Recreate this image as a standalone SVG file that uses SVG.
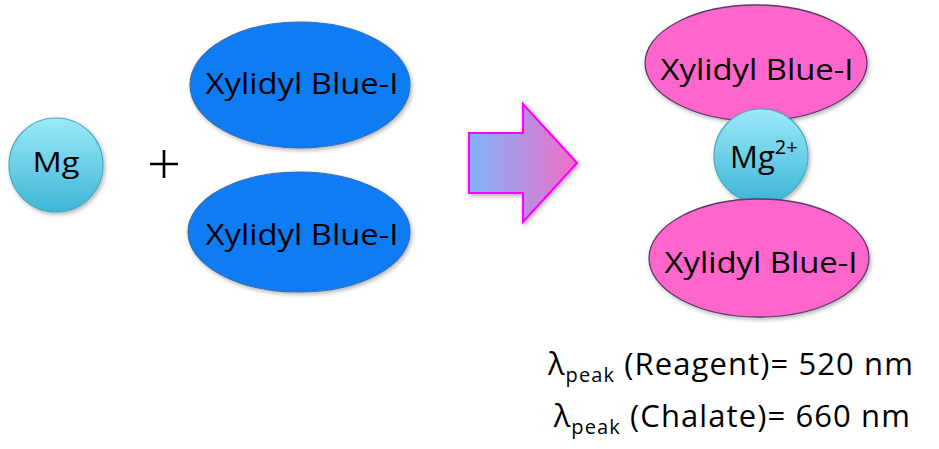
<svg xmlns="http://www.w3.org/2000/svg" width="939" height="449" viewBox="0 0 939 449">
<defs>
<style>
.t{font-family:"Open Sans","Liberation Sans",sans-serif;fill:#000;}
.lbl{font-size:30px;text-anchor:middle;}
.blue{fill:#0a7cf5;stroke:#3a6cb0;stroke-width:1.2;}
.pink{fill:#ff66cc;stroke:#5a3a6e;stroke-width:1.3;}
.ion{fill:url(#cy);stroke:#4aa8c4;stroke-width:1.2;}
.wl{font-size:31px;text-anchor:end;letter-spacing:1.1px;}
</style>
<linearGradient id="cy" x1="0" y1="0" x2="0" y2="1">
<stop offset="0" stop-color="#9ceaf8"/>
<stop offset="1" stop-color="#3db5d6"/>
</linearGradient>
<linearGradient id="ar" x1="0" y1="0" x2="1" y2="0">
<stop offset="0" stop-color="#7cb4fa"/>
<stop offset="1" stop-color="#f56cc6"/>
</linearGradient>
<filter id="sh" x="-20%" y="-20%" width="140%" height="140%">
<feDropShadow dx="1.5" dy="2" stdDeviation="2" flood-color="#000" flood-opacity="0.3"/>
</filter>
</defs>
<rect width="939" height="449" fill="#fff"/>
<g id="mg">
<circle class="ion" cx="56" cy="165" r="47" filter="url(#sh)"/>
<text class="t" x="56" y="172" font-size="28" text-anchor="middle" textLength="47" lengthAdjust="spacingAndGlyphs">Mg</text>
</g>
<g id="plus">
<path d="M150 164 H178 M164 150 V178" stroke="#000" stroke-width="2.6" fill="none"/>
</g>
<g id="xb1">
<ellipse class="blue" cx="300" cy="85" rx="110" ry="63" filter="url(#sh)"/>
<text class="t lbl" x="302" y="94" textLength="193" lengthAdjust="spacingAndGlyphs">Xylidyl Blue-I</text>
</g>
<g id="xb2">
<ellipse class="blue" cx="299" cy="232" rx="111" ry="60" filter="url(#sh)"/>
<text class="t lbl" x="302" y="245" textLength="193" lengthAdjust="spacingAndGlyphs">Xylidyl Blue-I</text>
</g>
<g id="connectors">
<path d="M469 133 H523 V104 L577 163 L523 222 V193 H469 Z" fill="url(#ar)" stroke="#ff00ff" stroke-width="2.2" stroke-linejoin="miter" filter="url(#sh)"/>
</g>
<g id="xb3">
<ellipse class="pink" cx="756" cy="63" rx="111" ry="58" filter="url(#sh)"/>
<text class="t lbl" x="757" y="80" textLength="193" lengthAdjust="spacingAndGlyphs">Xylidyl Blue-I</text>
</g>
<g id="mg2">
<circle class="ion" cx="761" cy="156" r="47" filter="url(#sh)"/>
<text class="t" x="730" y="168" font-size="31">Mg<tspan font-size="20" dy="-14">2+</tspan></text>
</g>
<g id="xb4">
<ellipse class="pink" cx="759" cy="258" rx="110" ry="59" filter="url(#sh)"/>
<text class="t lbl" x="761" y="273" textLength="193" lengthAdjust="spacingAndGlyphs">Xylidyl Blue-I</text>
</g>
<g id="labels">
<text class="t wl" x="914" y="375">λ<tspan font-size="20" dy="7">peak</tspan><tspan dy="-7"> (Reagent)= 520 nm</tspan></text>
<text class="t wl" x="911" y="427">λ<tspan font-size="20" dy="7">peak</tspan><tspan dy="-7"> (Chalate)= 660 nm</tspan></text>
</g>
</svg>
